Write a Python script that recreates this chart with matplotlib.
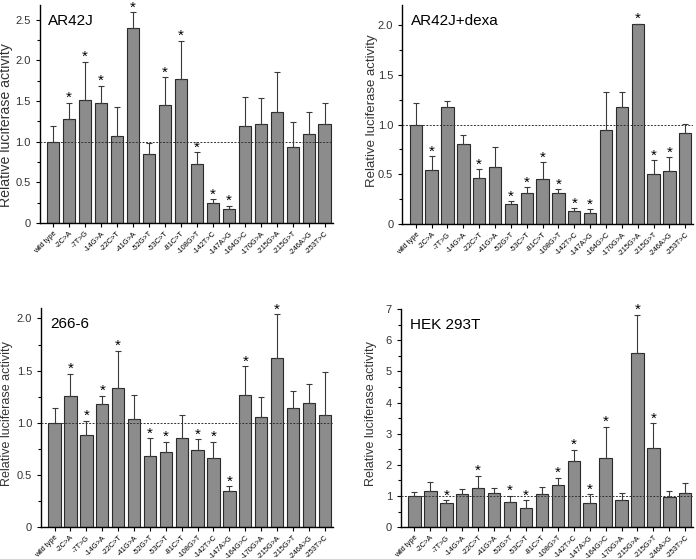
import numpy as np
import matplotlib.pyplot as plt
from matplotlib.ticker import MultipleLocator

plt.rcParams['font.family'] = ['Liberation Sans', 'DejaVu Sans']

labels = ['wild type', '-2C>A', '-7T>G', '-14G>A', '-22C>T', '-41G>A', '-52G>T',
          '-53C>T', '-81C>T', '-108G>T', '-142T>C', '-147A>G', '-164G>C',
          '-170G>A', '-215G>A', '-215G>T', '-246A>G', '-253T>C']

# AR42J
ar42j_mean = [1.00, 1.28, 1.51, 1.47, 1.07, 2.40, 0.85, 1.45, 1.77, 0.72, 0.25, 0.17,
              1.19, 1.22, 1.36, 0.94, 1.09, 1.22]
ar42j_top = [1.19, 1.48, 1.98, 1.69, 1.43, 2.59, 0.98, 1.79, 2.24, 0.87, 0.29, 0.21,
             1.55, 1.54, 1.86, 1.24, 1.37, 1.47]
ar42j_sig = [0, 1, 1, 1, 0, 1, 0, 1, 1, 1, 1, 1, 0, 0, 0, 0, 0, 0]

# AR42J + dexamethasone
dexa_mean = [1.00, 0.54, 1.18, 0.80, 0.46, 0.57, 0.20, 0.31, 0.45, 0.31, 0.13, 0.11,
             0.95, 1.18, 2.01, 0.50, 0.53, 0.92]
dexa_top = [1.22, 0.68, 1.24, 0.90, 0.55, 0.77, 0.23, 0.37, 0.62, 0.35, 0.16, 0.15,
            1.33, 1.33, 2.01, 0.64, 0.67, 1.01]
dexa_sig = [0, 1, 0, 0, 1, 0, 1, 1, 1, 1, 1, 1, 0, 0, 1, 1, 1, 0]

# 266-6
c266_mean = [1.00, 1.26, 0.88, 1.18, 1.33, 1.04, 0.68, 0.72, 0.85, 0.74, 0.66, 0.35,
             1.27, 1.06, 1.62, 1.14, 1.19, 1.07]
c266_top = [1.14, 1.47, 1.02, 1.26, 1.69, 1.27, 0.85, 0.82, 1.07, 0.84, 0.82, 0.39,
            1.54, 1.25, 2.04, 1.30, 1.37, 1.49]
c266_sig = [0, 1, 1, 1, 1, 0, 1, 1, 0, 1, 1, 1, 1, 0, 1, 0, 0, 0]

# HEK 293T
hek_mean = [1.00, 1.15, 0.76, 1.08, 1.27, 1.09, 0.82, 0.62, 1.05, 1.36, 2.13, 0.77,
            2.23, 0.87, 5.60, 2.55, 0.96, 1.10]
hek_top = [1.12, 1.45, 0.86, 1.23, 1.64, 1.27, 1.00, 0.86, 1.30, 1.59, 2.48, 1.05,
           3.23, 1.09, 6.82, 3.33, 1.17, 1.43]
hek_sig = [0, 0, 1, 0, 1, 0, 1, 1, 0, 1, 1, 1, 1, 0, 1, 1, 0, 0]

# title, mean, top of error bar, significance, axes rect, ymax, major, minor,
# ticklabels, ylabel position and size
panels = [
    ('AR42J', ar42j_mean, ar42j_top, ar42j_sig, [0.057, 0.601, 0.421, 0.390], 2.68, 0.5, 0.25,
     ['0', '0.5', '1.0', '1.5', '2.0', '2.5'], (-0.092, 0.45), 10.2),
    ('AR42J+dexa', dexa_mean, dexa_top, dexa_sig, [0.578, 0.599, 0.418, 0.392], 2.2, 0.5, 0.25,
     ['0', '0.5', '1.0', '1.5', '2.0'], (-0.082, 0.52), 9.5),
    ('266-6', c266_mean, c266_top, c266_sig, [0.059, 0.057, 0.419, 0.392], 2.1, 0.5, 0.25,
     ['0', '0.5', '1.0', '1.5', '2.0'], (-0.096, 0.52), 9.0),
    ('HEK 293T', hek_mean, hek_top, hek_sig, [0.576, 0.057, 0.420, 0.390], 7.0, 1, 0.5,
     ['0', '1', '2', '3', '4', '5', '6', '7'], (-0.083, 0.52), 9.0),
]

fig = plt.figure(figsize=(6.96, 5.59), dpi=100)
x = np.arange(len(labels))

for title, mean, top, sig, pos, ymax, major, minor, ticklabels, labpos, labsize in panels:
    ax = fig.add_axes(pos)
    mean = np.array(mean)
    err = np.array(top) - mean
    ax.bar(x, mean, width=0.78, color='#8c8c8c', edgecolor='#2a2a2a', linewidth=0.8, zorder=2)
    ax.errorbar(x, mean, yerr=[np.zeros_like(err), err], fmt='none', ecolor='#3a3a3a',
                elinewidth=0.8, capsize=2.5, capthick=0.8, zorder=3)
    ax.axhline(1.0, color='#333333', linestyle=(0, (2, 1.5)), linewidth=0.7, zorder=4)
    for i, s in enumerate(sig):
        if s:
            ax.annotate('*', (x[i], top[i]), xytext=(0, -1.5), textcoords='offset points',
                        ha='center', va='bottom', fontsize=11, annotation_clip=False)
    ax.set_xlim(-0.85, len(labels) - 0.5)
    ax.set_ylim(0, ymax)
    ax.yaxis.set_major_locator(MultipleLocator(major))
    ax.yaxis.set_minor_locator(MultipleLocator(minor))
    ax.set_yticks(np.arange(len(ticklabels)) * major)
    ax.set_yticklabels(ticklabels, fontsize=8, color='#333333')
    ax.set_xticks(x)
    ax.set_xticklabels(labels, rotation=45, ha='right', rotation_mode='anchor', fontsize=5.3)
    ax.tick_params(axis='both', direction='out', length=3, width=0.8)
    ax.tick_params(axis='x', pad=2)
    ax.tick_params(axis='y', which='minor', length=2, width=0.8)
    ax.spines['top'].set_visible(False)
    ax.spines['right'].set_visible(False)
    ax.spines['left'].set_linewidth(1.0)
    ax.spines['bottom'].set_linewidth(1.0)
    ax.set_ylabel('Relative luciferase activity', fontsize=labsize, color='#333333')
    ax.yaxis.set_label_coords(*labpos)
    ax.text(0.03, 0.96, title, transform=ax.transAxes, ha='left', va='top', fontsize=11)

fig.savefig('out.png', dpi=100)
